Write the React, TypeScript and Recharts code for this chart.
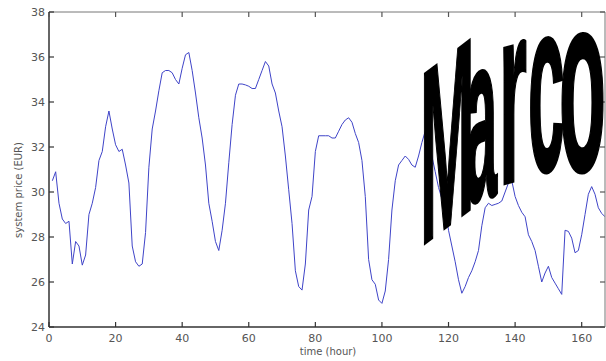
import React from 'react';
import { LineChart, Line, XAxis, YAxis } from 'recharts';

// hourly system price over one week
const hours = [
  1, 2, 3, 4, 5, 6, 7, 8, 9, 10, 11, 12, 13, 14, 15, 16, 17, 18, 19, 20,
  21, 22, 23, 24, 25, 26, 27, 28, 29, 30, 31, 32, 33, 34, 35, 36, 37, 38, 39, 40,
  41, 42, 43, 44, 45, 46, 47, 48, 49, 50, 51, 52, 53, 54, 55, 56, 57, 58, 59, 60,
  61, 62, 63, 64, 65, 66, 67, 68, 69, 70, 71, 72, 73, 74, 75, 76, 77, 78, 79, 80,
  81, 82, 83, 84, 85, 86, 87, 88, 89, 90, 91, 92, 93, 94, 95, 96, 97, 98, 99, 100,
  101, 102, 103, 104, 105, 106, 107, 108, 109, 110, 111, 112, 113, 114, 115, 116, 117, 118, 119, 120,
  121, 122, 123, 124, 125, 126, 127, 128, 129, 130, 131, 132, 133, 134, 135, 136, 137, 138, 139, 140,
  141, 142, 143, 144, 145, 146, 147, 148, 149, 150, 151, 152, 153, 154, 155, 156, 157, 158, 159, 160,
  161, 162, 163, 164, 165, 166, 167,
];

const prices = [
  30.5, 30.9, 29.5, 28.8, 28.6, 28.7, 26.8, 27.8, 27.6, 26.75, 27.2, 29.0, 29.5, 30.2, 31.4, 31.8, 32.9, 33.6, 32.8, 32.1,
  31.8, 31.9, 31.2, 30.4, 27.6, 26.9, 26.7, 26.8, 28.2, 31.1, 32.8, 33.6, 34.5, 35.3, 35.4, 35.4, 35.3, 35.0, 34.8, 35.5,
  36.1, 36.2, 35.4, 34.4, 33.3, 32.4, 31.2, 29.5, 28.7, 27.8, 27.4, 28.3, 29.5, 31.3, 33.0, 34.3, 34.8, 34.8, 34.76, 34.7,
  34.6, 34.6, 35.0, 35.4, 35.8, 35.6, 34.8, 34.4, 33.6, 32.9, 31.6, 30.1, 28.6, 26.5, 25.8, 25.64, 26.8, 29.2, 29.8, 31.8,
  32.5, 32.5, 32.5, 32.5, 32.4, 32.4, 32.7, 33.0, 33.2, 33.3, 33.1, 32.6, 32.2, 31.4, 29.8, 27.0, 26.1, 25.9, 25.2, 25.05,
  25.6, 27.0, 29.2, 30.5, 31.2, 31.4, 31.6, 31.45, 31.2, 31.1, 31.6, 32.2, 32.7, 32.4, 31.6, 30.9, 30.2, 29.7, 29.2, 28.3,
  27.6, 26.9, 26.1, 25.5, 25.8, 26.2, 26.5, 26.9, 27.4, 28.5, 29.3, 29.5, 29.4, 29.45, 29.5, 29.6, 30.0, 30.4, 30.5, 29.8,
  29.4, 29.1, 28.9, 28.1, 27.8, 27.4, 26.7, 26.0, 26.4, 26.7, 26.2, 25.95, 25.7, 25.45, 28.3, 28.25, 27.95, 27.3, 27.4, 28.1,
  29.0, 29.9, 30.24, 29.9, 29.3, 29.05, 28.9,
];

const xTicks = [0, 20, 40, 60, 80, 100, 120, 140, 160];
const yTicks = [24, 26, 28, 30, 32, 34, 36, 38];

const data = hours.map((h, i) => ({ hour: h, price: prices[i] }));

const TICK_COLOR = '#555';
const FONT = '"DejaVu Sans", sans-serif';

const BottomTick = (props: any) => {
  const { x, y, payload } = props;
  return (
    <g>
      <line x1={x} x2={x} y1={y} y2={y - 5} stroke="#333" strokeWidth={1.2} />
      <text x={x} y={y + 15} textAnchor="middle" fill={TICK_COLOR} fontSize={11} fontFamily={FONT}>
        {payload.value}
      </text>
    </g>
  );
};

const LeftTick = (props: any) => {
  const { x, y, payload } = props;
  return (
    <g>
      <line x1={x} x2={x + 5} y1={y} y2={y} stroke="#333" strokeWidth={1.2} />
      <text x={x - 4} y={y + 4} textAnchor="end" fill={TICK_COLOR} fontSize={11} fontFamily={FONT}>
        {payload.value}
      </text>
    </g>
  );
};

const TopTick = (props: any) => {
  const { x, y } = props;
  return <line x1={x} x2={x} y1={y} y2={y + 5} stroke="#555" strokeWidth={1.2} />;
};

const RightTick = (props: any) => {
  const { x, y } = props;
  return <line x1={x} x2={x - 5} y1={y} y2={y} stroke="#555" strokeWidth={1.2} />;
};

// the big distorted watermark over the right part of the plot
const marcoLetters = [
  { ch: 'M', x: 420, y: 247, sx: 0.655, sy: 2.46, skew: -37 },
  { ch: 'a', x: 465, y: 204, sx: 0.58, sy: 2.38, skew: -17 },
  { ch: 'r', x: 499, y: 185, sx: 0.72, sy: 2.56, skew: -15 },
  { ch: 'c', x: 528, y: 173, sx: 0.66, sy: 2.46, skew: -8 },
  { ch: 'o', x: 559, y: 172, sx: 0.77, sy: 2.54, skew: -4 },
];

export default function App() {
  return (
    <div style={{ position: 'absolute', left: 0, top: 0, width: 606, height: 361, background: '#fff' }}>
      <LineChart
        width={606}
        height={361}
        data={data}
        margin={{ top: 11, right: 0, bottom: 14, left: 0 }}
      >
        <XAxis
          dataKey="hour"
          type="number"
          domain={[0, 167]}
          ticks={xTicks}
          allowDataOverflow
          height={20}
          tickSize={0}
          tickMargin={0}
          tickLine={false}
          tick={<BottomTick />}
          axisLine={{ stroke: '#333', strokeWidth: 1.5 }}
        />
        <XAxis
          xAxisId="top"
          orientation="top"
          dataKey="hour"
          type="number"
          domain={[0, 167]}
          ticks={xTicks}
          allowDataOverflow
          height={1}
          tickSize={0}
          tickMargin={0}
          tickLine={false}
          tick={<TopTick />}
          axisLine={{ stroke: '#777', strokeWidth: 1 }}
        />
        <YAxis
          type="number"
          domain={[24, 38]}
          ticks={yTicks}
          allowDataOverflow
          width={49}
          tickSize={0}
          tickMargin={0}
          tickLine={false}
          tick={<LeftTick />}
          axisLine={{ stroke: '#333', strokeWidth: 1.5 }}
        />
        <YAxis
          yAxisId="right"
          orientation="right"
          type="number"
          domain={[24, 38]}
          ticks={yTicks}
          allowDataOverflow
          width={1}
          tickSize={0}
          tickMargin={0}
          tickLine={false}
          tick={<RightTick />}
          axisLine={{ stroke: '#777', strokeWidth: 1 }}
        />
        <Line
          type="linear"
          dataKey="price"
          stroke="#3f44c8"
          strokeWidth={1}
          dot={false}
          isAnimationActive={false}
        />
      </LineChart>
      <div
        style={{
          position: 'absolute',
          left: 328,
          top: 346,
          transform: 'translateX(-50%)',
          fontFamily: FONT,
          fontSize: 10,
          color: TICK_COLOR,
          whiteSpace: 'nowrap',
        }}
      >
        time (hour)
      </div>
      <div
        style={{
          position: 'absolute',
          left: 18,
          top: 190,
          transform: 'translate(-50%, -50%) rotate(-90deg)',
          fontFamily: FONT,
          fontSize: 10,
          color: TICK_COLOR,
          whiteSpace: 'nowrap',
        }}
      >
        system price (EUR)
      </div>
      <svg
        width={606}
        height={361}
        style={{ position: 'absolute', left: 0, top: 0, pointerEvents: 'none' }}
      >
        {marcoLetters.map((l) => (
          <text
            key={l.ch}
            transform={`translate(${l.x},${l.y}) skewY(${l.skew}) scale(${l.sx},${l.sy})`}
            fontFamily='"Liberation Sans", Arial, sans-serif'
            fontWeight="bold"
            fontSize={100}
            fill="#000"
            stroke="#000"
            strokeWidth={2.5}
            vectorEffect="non-scaling-stroke"
          >
            {l.ch}
          </text>
        ))}
      </svg>
    </div>
  );
}
